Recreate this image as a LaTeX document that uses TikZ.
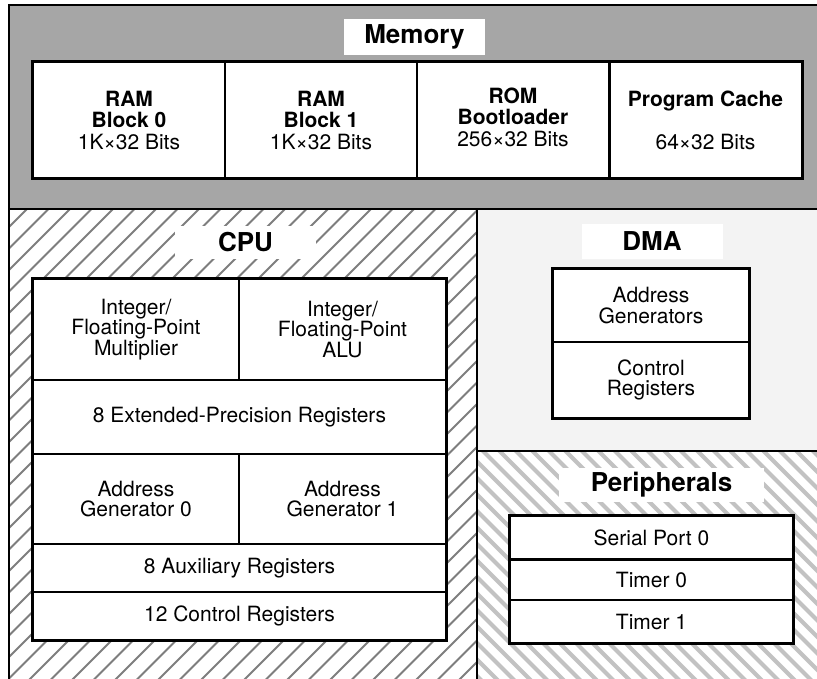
\documentclass[tikz,border=0pt]{standalone}
\usepackage{fontspec}
\setmainfont{TeX Gyre Heros}
\definecolor{memgray}{HTML}{A6A6A6}
\definecolor{dmagray}{HTML}{F3F3F3}
\definecolor{hatchdark}{HTML}{7E7E7E}
\definecolor{hatchlight}{HTML}{C2C2C2}
\begin{document}
\begin{tikzpicture}[x=1pt,y=-1pt,
  cell/.style={draw=black,line width=1.2pt,fill=white,inner sep=0pt,align=center,
    font=\fontsize{21}{20.5}\selectfont},
  memcell/.style={cell,line width=2pt,minimum width=192pt,minimum height=116pt,
    font=\fontsize{21}{21.5}\selectfont},
  memtext/.style={inner sep=0pt,align=center,font=\fontsize{21}{21.5}\selectfont},
  blocktitle/.style={fill=white,inner sep=0pt,font=\fontsize{26}{26}\selectfont\bfseries},
  frame/.style={line width=2pt,line cap=rect}]
\useasboundingbox (0,0) rectangle (817,678);

% Memory area
\fill[memgray] (9,5) rectangle (830,209);

% CPU area, hatched
\begin{scope}
  \clip (9,209) rectangle (477,700);
  \fill[white] (9,209) rectangle (477,700);
  \foreach \i in {-30,...,30}
    \draw[hatchdark,line width=1.8pt] ({9+\i*21.5},700) -- ++(520,-520);
\end{scope}

% DMA area
\fill[dmagray] (477,209) rectangle (830,451);

% Peripherals area, hatched
\begin{scope}
  \clip (477,451) rectangle (830,700);
  \fill[white] (477,451) rectangle (830,700);
  \foreach \i in {-22,...,25}
    \draw[hatchlight,line width=4.2pt] ({477+\i*16.5},445) -- ++(300,300);
\end{scope}

% Area borders
\draw[frame] (9,700) -- (9,5) -- (830,5);
\draw[line width=1.8pt] (9,209) -- (830,209);
\draw[line width=1.6pt] (477,209) -- (477,700);
\draw[line width=1.4pt] (477,451) -- (830,451);

% Titles
\node[blocktitle,minimum width=141pt,minimum height=36pt] (memt) at (414.5,37) {Memory};
\node[blocktitle,minimum width=141pt,minimum height=33pt] (cput) at (245.5,242) {CPU};
\node[blocktitle,minimum width=141pt,minimum height=35pt] (dmat) at (652,241.5) {DMA};
\node[blocktitle,minimum width=205pt,minimum height=34pt] (perit) at (661.5,485) {Peripherals};

% Memory blocks
\node[memcell] (ram0) at (129,120) {\textbf{RAM}\\\textbf{Block 0}\\1K×32 Bits};
\node[memcell] (ram1) at (321,120) {\textbf{RAM}\\\textbf{Block 1}\\1K×32 Bits};
\node[memcell] (rom) at (513,120) {};
\node[memtext] (romtext) at ([yshift=3pt]rom.center)
  {\textbf{ROM}\\\textbf{Bootloader}\\256×32 Bits};
\node[memcell] (pcache) at (705.5,120) {\textbf{Program Cache}\\[21.5pt]64×32 Bits};
\draw[frame] (ram0.north west) rectangle (pcache.south east);

% CPU blocks
\node[cell,minimum width=206pt,minimum height=101pt] (mult) at (136,329.5)
  {Integer/\\Floating-Point\\Multiplier};
\node[cell,minimum width=207pt,minimum height=101pt] (alu) at (342.5,329.5)
  {Integer/\\Floating-Point\\ALU};
\node[cell,minimum width=413pt,minimum height=74pt] (extreg) at (239.5,417)
  {8 Extended-Precision Registers};
\node[cell,minimum width=206pt,minimum height=90pt] (ag0) at (136,499)
  {Address\\Generator 0};
\node[cell,minimum width=207pt,minimum height=90pt] (ag1) at (342.5,499)
  {Address\\Generator 1};
\node[cell,minimum width=413pt,minimum height=48pt] (auxreg) at (239.5,568)
  {8 Auxiliary Registers};
\node[cell,minimum width=413pt,minimum height=48pt] (ctrlreg) at (239.5,616)
  {12 Control Registers};
\draw[frame] (mult.north west) rectangle (ctrlreg.south east);

% DMA blocks
\node[cell,minimum width=196pt,minimum height=73pt] (dmaag) at (651,305.5)
  {Address\\Generators};
\node[cell,minimum width=196pt,minimum height=76pt] (dmacr) at (651,380)
  {Control\\Registers};
\draw[frame] (dmaag.north west) rectangle (dmacr.south east);

% Peripheral blocks
\node[cell,minimum width=283pt,minimum height=43pt] (sp0) at (651.5,537.5) {Serial Port 0};
\node[cell,minimum width=283pt,minimum height=41pt] (tim0) at (651.5,579.5) {Timer 0};
\node[cell,minimum width=283pt,minimum height=43pt] (tim1) at (651.5,621.5) {Timer 1};
\draw[frame] (sp0.north west) rectangle (tim1.south east);
\draw[line width=2pt] (sp0.south west) -- (sp0.south east);
\end{tikzpicture}
\end{document}
